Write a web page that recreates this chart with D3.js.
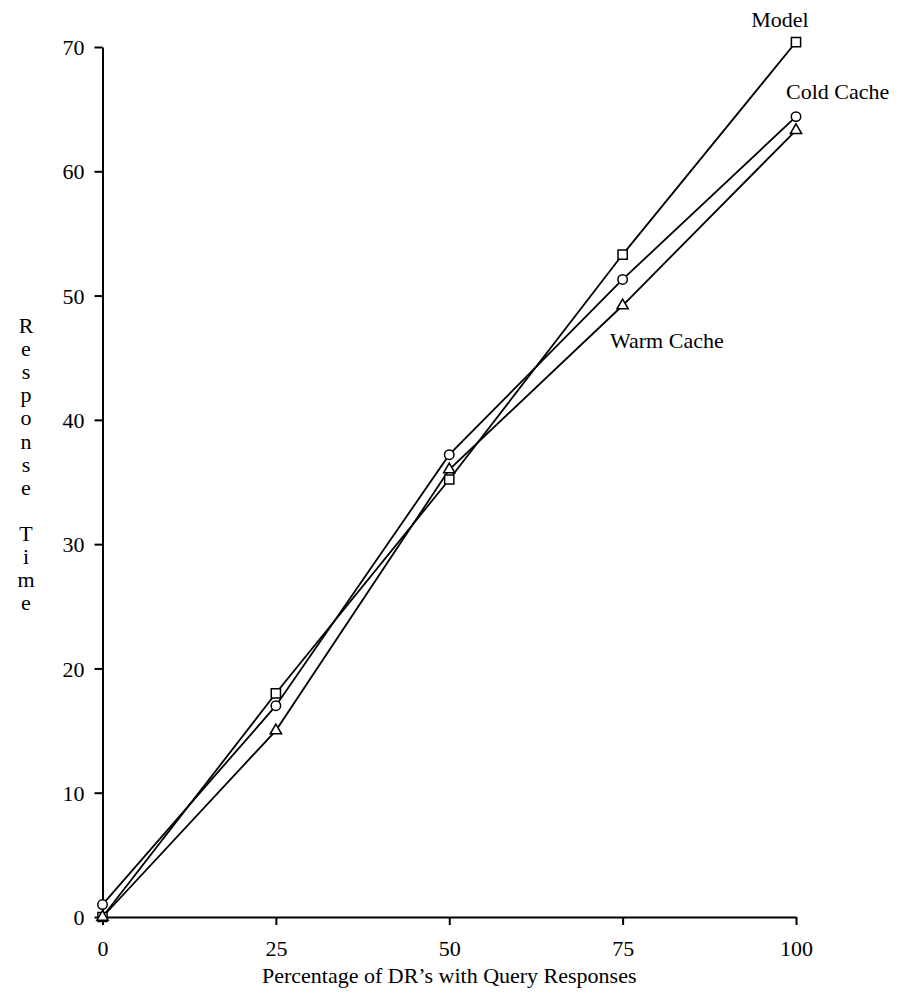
<!DOCTYPE html>
<html>
<head>
<meta charset="utf-8">
<script src="https://cdn.jsdelivr.net/npm/d3@7/dist/d3.min.js"></script>
<style>
  body { margin: 0; background: #fff; }
  text { font-family: "Liberation Serif", "DejaVu Serif", serif; fill: #000; }
</style>
</head>
<body>
<script>
// canvas
var w = 902;
var h = 998;

// data
var xValues = [0, 25, 50, 75, 100];
var modelValues = [0, 18.0, 35.2, 53.3, 70.4];
var coldValues = [1.0, 17.0, 37.2, 51.3, 64.4];
var warmValues = [0, 15.0, 36.0, 49.2, 63.3];
var xTicks = [0, 25, 50, 75, 100];
var yTicks = [0, 10, 20, 30, 40, 50, 60, 70];
var seriesNames = ["Model", "Cold Cache", "Warm Cache"];

// plot area magic numbers (no "top" here, it clashes with window.top)
var plotLeft = 102.5;
var plotRight = 796;
var plotTop = 47;
var plotBottom = 917;
var fontSize = 22;

var svg = d3.select("body")
            .append("svg")
            .attr("width", w)
            .attr("height", h);

var x = d3.scaleLinear().domain([0, 100]).range([plotLeft, plotRight]);
var y = d3.scaleLinear().domain([0, 70]).range([plotBottom, plotTop]);

// axes
var xAxis = svg.append("g")
    .attr("transform", "translate(0," + plotBottom + ")")
    .call(d3.axisBottom(x).tickValues(xTicks).tickSizeInner(8).tickSizeOuter(0).tickPadding(11));

var yAxis = svg.append("g")
    .attr("transform", "translate(" + plotLeft + ",0)")
    .call(d3.axisLeft(y).tickValues(yTicks).tickSizeInner(8).tickSizeOuter(0).tickPadding(10));

svg.selectAll(".domain, .tick line")
   .attr("stroke", "#000")
   .attr("stroke-width", 2);

svg.selectAll(".tick text")
   .attr("font-family", "Liberation Serif")
   .attr("font-size", fontSize)
   .attr("fill", "#000");

xAxis.selectAll(".tick text").attr("dy", "0.9em");
yAxis.selectAll(".tick text").attr("dy", "0.35em");

// series lines
var series = [
    {name: seriesNames[0], values: modelValues, shape: "square"},
    {name: seriesNames[1], values: coldValues, shape: "circle"},
    {name: seriesNames[2], values: warmValues, shape: "triangle"}
];

var line = d3.line()
    .x(function(d, i) { return x(xValues[i]); })
    .y(function(d) { return y(d); });

svg.selectAll("path.series")
   .data(series)
   .enter().append("path")
   .attr("class", "series")
   .attr("d", function(d) { return line(d.values); })
   .attr("fill", "none")
   .attr("stroke", "#000")
   .attr("stroke-width", 1.8);

// markers, hollow
var symbolFor = {
    square: d3.symbol().type(d3.symbolSquare).size(85),
    circle: d3.symbol().type(d3.symbolCircle).size(70),
    triangle: d3.symbol().type(d3.symbolTriangle).size(55)
};

series.forEach(function(s) {
    svg.selectAll("path.m-" + s.shape)
       .data(s.values)
       .enter().append("path")
       .attr("class", "m-" + s.shape)
       .attr("d", symbolFor[s.shape]())
       .attr("transform", function(d, i) {
           return "translate(" + x(xValues[i]) + "," + y(d) + ")";
       })
       .attr("fill", "#fff")
       .attr("stroke", "#000")
       .attr("stroke-width", 1.5);
});

// series labels
svg.append("text").attr("x", 780).attr("y", 27).attr("text-anchor", "middle")
   .attr("font-size", fontSize).text(seriesNames[0]);
svg.append("text").attr("x", 786).attr("y", 99)
   .attr("font-size", fontSize).text(seriesNames[1]);
svg.append("text").attr("x", 610).attr("y", 348)
   .attr("font-size", fontSize).text(seriesNames[2]);

// x axis title
svg.append("text")
   .attr("x", (plotLeft + plotRight) / 2)
   .attr("y", 983)
   .attr("text-anchor", "middle")
   .attr("font-size", fontSize)
   .text("Percentage of DR\u2019s with Query Responses");

// y axis title, one letter per line
var yTitle = "Response Time".split("");
svg.append("g").selectAll("text")
   .data(yTitle)
   .enter().append("text")
   .attr("x", 26)
   .attr("y", function(d, i) { return 333 + i * 23.1; })
   .attr("text-anchor", "middle")
   .attr("font-size", fontSize)
   .text(function(d) { return d; });
</script>
</body>
</html>
